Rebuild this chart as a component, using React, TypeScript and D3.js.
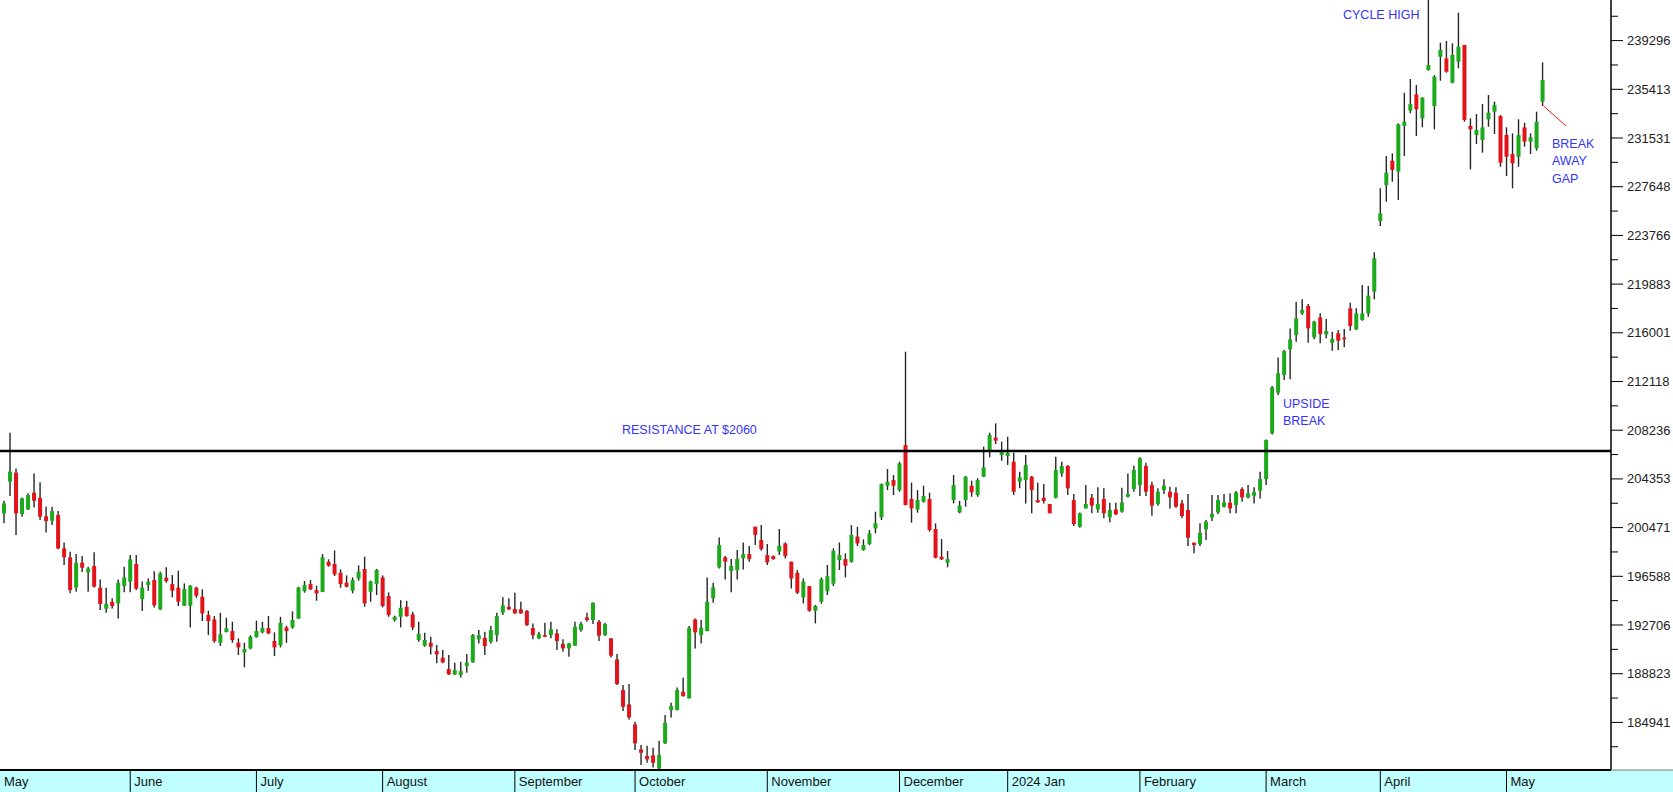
import React from "react";
import * as d3 from "d3";

// ---- Data (gold, daily candles, price x100 on axis) ----
const OPEN = [
  1997.4, 2016.0, 2041.3, 2048.5, 2015.5, 2019.2, 2032.5, 2028.5, 2013.7, 2010.2,
  2014.7, 1988.1, 1981.0, 1957.0, 1976.7, 1969.0, 1974.1, 1956.8, 1940.0, 1945.6,
  1944.3, 1958.1, 1961.6, 1975.7, 1947.7, 1958.9, 1962.9, 1939.5, 1964.8, 1959.7,
  1956.8, 1942.4, 1942.4, 1956.8, 1949.6, 1935.0, 1931.5, 1912.9, 1921.4, 1922.2,
  1912.9, 1905.2, 1908.4, 1917.4, 1921.2, 1924.6, 1914.3, 1910.8, 1925.1, 1925.1,
  1932.1, 1954.1, 1959.7, 1954.9, 1953.3, 1977.5, 1975.7, 1968.7, 1960.8, 1954.4,
  1964.2, 1971.7, 1953.6, 1959.7, 1965.0, 1950.1, 1931.0, 1933.6, 1941.6, 1935.5,
  1915.1, 1910.5, 1912.9, 1906.3, 1901.0, 1891.9, 1887.7, 1887.2, 1894.3, 1897.2,
  1915.6, 1916.9, 1913.7, 1919.0, 1936.9, 1941.6, 1939.8, 1939.5, 1938.2, 1924.6,
  1916.4, 1919.0, 1919.0, 1920.4, 1911.9, 1908.4, 1910.5, 1923.0, 1933.1, 1931.0,
  1929.7, 1919.0, 1916.4, 1899.6, 1875.2, 1863.8, 1847.8, 1827.9, 1822.6, 1823.1,
  1812.7, 1832.7, 1859.2, 1859.2, 1873.9, 1868.6, 1931.5, 1919.0, 1922.2, 1948.3,
  1973.0, 1981.0, 1970.1, 1970.9, 1980.2, 1983.6, 2005.4, 1994.8, 1982.8, 1982.0,
  1985.5, 1992.1, 1977.5, 1968.7, 1949.1, 1958.1, 1938.4, 1945.6, 1954.0, 1960.0,
  1978.8, 1979.6, 1977.5, 1997.5, 1986.8, 1991.6, 2004.1, 2012.9, 2038.1, 2042.6,
  2034.6, 2070.5, 2027.5, 2019.2, 2025.4, 2027.5, 2003.6, 1981.5, 1976.7, 2026.7,
  2016.8, 2026.7, 2038.1, 2030.7, 2045.3, 2066.5, 2076.4, 2062.6, 2061.8, 2057.2,
  2041.3, 2042.6, 2045.3, 2026.7, 2028.5, 2023.5, 2028.5, 2047.9, 2053.8, 2026.7,
  2005.4, 2020.0, 2028.5, 2019.2, 2027.5, 2012.9, 2019.2, 2017.4, 2029.3, 2035.5,
  2038.6, 2053.8, 2038.6, 2023.5, 2034.6, 2033.3, 2032.5, 2024.0, 2018.7, 1992.7,
  1991.6, 2003.3, 2012.9, 2016.8, 2021.4, 2024.6, 2022.7, 2035.4, 2028.8, 2030.1,
  2034.1, 2043.4, 2079.8, 2112.2, 2126.3, 2146.8, 2158.2, 2175.5, 2181.4, 2156.4,
  2172.3, 2158.7, 2152.1, 2159.6, 2156.1, 2179.5, 2162.7, 2170.2, 2175.5, 2192.8,
  2249.1, 2277.8, 2297.2, 2288.5, 2325.1, 2337.1, 2350.1, 2331.0, 2369.5, 2340.8,
  2380.1, 2378.8, 2359.4, 2376.2, 2389.5, 2324.9, 2317.7, 2313.7, 2330.2, 2336.3,
  2332.8, 2317.7, 2302.5, 2300.4, 2323.8, 2312.4, 2307.1, 2344.3,
];
const HIGH = [
  2026.0, 2026.1, 2080.4, 2051.9, 2028.8, 2032.0, 2047.9, 2040.8, 2021.4, 2021.4,
  2017.9, 1992.9, 1985.5, 1983.6, 1982.0, 1973.5, 1985.0, 1963.4, 1956.8, 1948.3,
  1963.4, 1973.5, 1982.8, 1982.8, 1961.8, 1964.2, 1970.0, 1969.5, 1973.0, 1966.9,
  1970.3, 1960.2, 1958.9, 1957.6, 1955.5, 1938.4, 1934.2, 1936.8, 1932.9, 1929.7,
  1916.4, 1912.9, 1919.0, 1930.5, 1929.7, 1934.2, 1921.2, 1933.6, 1926.5, 1937.9,
  1957.6, 1962.1, 1962.9, 1958.4, 1983.6, 1979.4, 1986.5, 1971.4, 1966.6, 1965.0,
  1974.6, 1981.5, 1962.4, 1971.7, 1966.6, 1953.1, 1934.5, 1946.9, 1946.4, 1937.6,
  1929.7, 1920.9, 1917.7, 1911.1, 1907.1, 1903.1, 1897.0, 1897.8, 1903.9, 1919.8,
  1923.0, 1921.7, 1926.2, 1936.9, 1949.1, 1948.3, 1952.8, 1945.6, 1939.0, 1928.3,
  1921.7, 1928.9, 1929.7, 1923.6, 1915.6, 1912.9, 1929.7, 1929.7, 1936.9, 1945.0,
  1931.0, 1928.9, 1916.6, 1903.9, 1879.2, 1880.0, 1849.9, 1831.3, 1830.8, 1829.2,
  1834.8, 1855.3, 1865.1, 1877.3, 1885.0, 1926.2, 1932.3, 1931.0, 1965.0, 1960.8,
  1996.9, 1982.0, 1979.6, 1986.8, 1992.9, 1990.0, 2005.4, 2006.7, 1991.6, 1982.5,
  2003.6, 1992.9, 1977.6, 1970.9, 1964.2, 1958.3, 1943.0, 1965.0, 1974.9, 1988.2,
  1992.9, 1984.2, 2006.7, 2005.4, 1995.3, 2002.8, 2017.4, 2039.9, 2051.4, 2046.6,
  2057.2, 2144.9, 2040.5, 2034.6, 2038.1, 2032.5, 2008.1, 1995.6, 1986.0, 2046.6,
  2025.9, 2045.8, 2042.1, 2044.0, 2069.2, 2080.4, 2087.8, 2073.2, 2077.2, 2064.4,
  2049.3, 2062.6, 2045.8, 2040.5, 2039.4, 2023.5, 2061.2, 2057.2, 2054.6, 2031.5,
  2016.8, 2038.6, 2031.5, 2036.8, 2036.0, 2024.6, 2024.6, 2036.5, 2047.9, 2054.1,
  2060.7, 2056.4, 2041.3, 2036.0, 2043.2, 2037.3, 2036.8, 2026.7, 2031.5, 1992.7,
  2008.1, 2010.7, 2030.7, 2030.7, 2031.5, 2032.0, 2033.8, 2036.8, 2038.6, 2036.8,
  2049.2, 2075.0, 2117.5, 2140.4, 2146.3, 2163.5, 2184.8, 2186.7, 2183.0, 2169.7,
  2175.5, 2171.0, 2160.9, 2162.2, 2163.0, 2184.0, 2179.5, 2198.1, 2197.3, 2224.2,
  2275.2, 2300.9, 2303.1, 2327.0, 2351.4, 2362.3, 2357.6, 2347.7, 2431.5, 2365.5,
  2391.3, 2392.6, 2390.8, 2415.2, 2389.5, 2331.0, 2334.4, 2342.4, 2349.6, 2344.3,
  2333.6, 2323.8, 2319.0, 2330.2, 2327.5, 2319.0, 2336.3, 2375.6,
];
const LOW = [
  1981.5, 2008.1, 2029.9, 1998.8, 2013.4, 2018.7, 2020.8, 2010.7, 2000.9, 2006.7,
  1987.5, 1974.9, 1952.3, 1953.6, 1969.3, 1953.6, 1957.0, 1939.0, 1936.8, 1940.3,
  1932.3, 1953.1, 1953.1, 1954.9, 1938.2, 1954.4, 1941.1, 1939.0, 1960.8, 1949.1,
  1942.2, 1942.2, 1925.1, 1948.8, 1930.2, 1919.0, 1912.9, 1910.3, 1921.2, 1912.9,
  1903.1, 1893.3, 1907.6, 1916.9, 1920.4, 1919.6, 1902.3, 1909.2, 1912.9, 1924.1,
  1932.1, 1952.8, 1954.9, 1946.4, 1953.3, 1973.5, 1966.1, 1956.8, 1957.0, 1952.3,
  1962.4, 1941.6, 1945.6, 1950.9, 1941.1, 1933.6, 1929.7, 1925.1, 1933.6, 1923.0,
  1913.7, 1909.7, 1903.6, 1896.5, 1896.5, 1887.2, 1887.2, 1885.3, 1889.0, 1897.0,
  1912.4, 1903.1, 1912.4, 1913.7, 1935.0, 1939.0, 1936.0, 1936.0, 1926.2, 1915.6,
  1915.6, 1917.2, 1916.4, 1907.1, 1905.7, 1901.8, 1910.5, 1921.7, 1929.7, 1927.8,
  1914.3, 1918.2, 1901.2, 1879.2, 1858.4, 1851.8, 1827.4, 1815.4, 1817.2, 1813.5,
  1810.0, 1832.1, 1853.4, 1859.0, 1869.9, 1868.4, 1908.4, 1912.4, 1922.0, 1944.8,
  1972.2, 1963.4, 1953.1, 1963.4, 1971.4, 1977.5, 1990.8, 1986.3, 1974.9, 1979.0,
  1982.8, 1980.2, 1956.2, 1951.7, 1944.3, 1937.6, 1928.3, 1944.0, 1951.0, 1958.0,
  1970.9, 1965.0, 1976.7, 1990.0, 1986.3, 1990.8, 2000.1, 2010.7, 2034.6, 2030.7,
  2033.3, 2022.5, 2008.6, 2016.6, 2024.6, 2001.4, 1980.2, 1978.8, 1973.0, 2024.0,
  2016.1, 2021.4, 2029.3, 2029.3, 2045.0, 2060.7, 2071.3, 2058.0, 2054.6, 2030.7,
  2036.0, 2024.0, 2016.1, 2024.6, 2024.0, 2016.1, 2028.0, 2045.3, 2030.7, 2005.9,
  2004.6, 2020.0, 2016.1, 2016.6, 2012.1, 2008.9, 2014.7, 2016.6, 2028.8, 2033.3,
  2029.9, 2029.9, 2014.2, 2022.2, 2031.5, 2020.0, 2020.6, 2012.1, 1990.0, 1984.2,
  1990.0, 1994.8, 2009.9, 2015.5, 2020.8, 2016.1, 2016.1, 2025.3, 2028.0, 2024.0,
  2028.0, 2038.6, 2079.0, 2110.4, 2122.3, 2122.9, 2152.9, 2174.2, 2152.1, 2154.8,
  2151.6, 2155.6, 2145.7, 2146.3, 2148.4, 2161.7, 2162.2, 2169.7, 2172.8, 2186.7,
  2245.1, 2264.5, 2280.5, 2265.9, 2300.9, 2335.0, 2316.9, 2323.8, 2369.0, 2322.2,
  2361.0, 2367.4, 2358.9, 2370.9, 2328.3, 2290.3, 2310.5, 2303.6, 2324.3, 2318.5,
  2292.4, 2285.0, 2275.2, 2292.4, 2308.4, 2302.5, 2305.2, 2340.8,
];
const CLOSE = [
  2010.7, 2024.0, 2049.3, 2016.0, 2028.0, 2030.7, 2026.1, 2013.4, 2009.9, 2017.9,
  1988.1, 1981.0, 1954.9, 1976.7, 1972.7, 1972.0, 1957.6, 1943.8, 1943.8, 1942.2,
  1960.8, 1965.0, 1979.4, 1956.0, 1956.8, 1961.6, 1942.7, 1968.2, 1962.1, 1954.4,
  1945.6, 1955.7, 1958.4, 1950.4, 1936.3, 1930.2, 1914.3, 1919.6, 1924.4, 1915.1,
  1909.2, 1907.9, 1917.7, 1922.2, 1924.6, 1920.4, 1909.2, 1928.9, 1922.2, 1931.0,
  1957.0, 1958.9, 1955.5, 1952.3, 1981.0, 1974.3, 1967.4, 1959.7, 1957.6, 1962.9,
  1969.5, 1944.3, 1961.8, 1970.9, 1942.2, 1935.0, 1933.6, 1940.8, 1934.2, 1925.1,
  1919.9, 1915.1, 1909.7, 1903.6, 1897.2, 1887.7, 1891.1, 1890.3, 1897.0, 1919.0,
  1919.0, 1910.3, 1923.0, 1934.2, 1942.7, 1939.5, 1936.3, 1936.3, 1927.0, 1919.0,
  1919.8, 1917.7, 1923.6, 1914.3, 1908.4, 1912.4, 1925.7, 1927.8, 1931.0, 1944.8,
  1918.5, 1927.8, 1902.6, 1880.0, 1861.9, 1853.4, 1832.7, 1825.2, 1819.9, 1817.2,
  1823.4, 1849.1, 1862.4, 1875.2, 1870.4, 1924.9, 1921.2, 1924.9, 1945.6, 1957.1,
  1990.8, 1977.5, 1974.1, 1979.6, 1983.6, 1979.6, 1998.8, 1987.6, 1977.0, 1979.6,
  1990.3, 1982.0, 1964.2, 1952.8, 1961.6, 1938.4, 1942.2, 1963.5, 1966.0, 1986.3,
  1982.8, 1974.3, 1998.8, 1992.1, 1990.8, 2000.1, 2008.1, 2039.4, 2041.3, 2038.1,
  2055.9, 2022.7, 2020.0, 2026.7, 2029.9, 2002.8, 1980.7, 1979.4, 1979.6, 2038.6,
  2022.2, 2045.3, 2032.8, 2042.6, 2052.7, 2078.5, 2074.0, 2065.2, 2064.4, 2033.3,
  2044.8, 2054.6, 2034.6, 2024.8, 2025.9, 2016.1, 2050.6, 2053.8, 2036.0, 2007.5,
  2016.1, 2023.5, 2022.2, 2023.5, 2016.1, 2018.7, 2015.3, 2024.8, 2031.5, 2050.6,
  2059.9, 2033.3, 2022.2, 2033.3, 2038.1, 2028.8, 2021.4, 2013.9, 1996.6, 1990.8,
  2000.6, 2009.4, 2015.5, 2026.7, 2024.8, 2020.0, 2032.8, 2028.8, 2032.0, 2033.0,
  2043.4, 2074.5, 2116.5, 2127.7, 2145.5, 2154.8, 2171.5, 2178.2, 2163.5, 2168.9,
  2159.0, 2161.4, 2155.0, 2153.7, 2154.8, 2165.4, 2175.5, 2175.5, 2189.6, 2219.4,
  2255.2, 2287.6, 2289.8, 2326.2, 2328.3, 2342.4, 2338.2, 2347.5, 2373.5, 2364.2,
  2385.5, 2368.2, 2381.5, 2388.1, 2329.7, 2322.2, 2321.7, 2323.8, 2335.5, 2341.6,
  2295.6, 2300.4, 2295.1, 2317.7, 2312.4, 2315.8, 2328.3, 2361.5,
];

const MONTH_LABELS = [
  "May", "June", "July", "August", "September", "October", "November",
  "December", "2024 Jan", "February", "March", "April", "May",
];
const MONTH_START = [0, 22, 43, 64, 86, 106, 128, 150, 168, 190, 211, 230, 251];

const Y_TICK_LABELS = [
  "184941", "188823", "192706", "196588", "200471", "204353", "208236",
  "212118", "216001", "219883", "223766", "227648", "231531", "235413", "239296",
];

const RESISTANCE = 2065.7;
const RESISTANCE_LABEL = "RESISTANCE AT $2060";

// ---- Layout ----
const W = 1673;
const H = 792;
const PLOT_RIGHT = 1611;
const PLOT_BOTTOM = 770;
const STEP = 6.01;
const FONT = "'Liberation Sans', Arial, sans-serif";
const GREEN = "#1CAA1C";
const RED = "#E2141A";
const WICK = "#262626";
const BLUE = "#3535F5";

export default function App() {
  const n = OPEN.length;
  const x = d3.scaleLinear().domain([0, n - 1]).range([-2, -2 + (n - 1) * STEP]);
  const y = d3.scaleLinear().domain([1811.46, 2425.33]).range([PLOT_BOTTOM, 0]);

  const tickVals = Y_TICK_LABELS.map((t) => +t / 100);
  const minorVals = tickVals.slice(0, -1).map((v, i) => (v + tickVals[i + 1]) / 2);
  const stepV = tickVals[1] - tickVals[0];
  minorVals.push(tickVals[tickVals.length - 1] + stepV / 2);
  minorVals.unshift(tickVals[0] - stepV / 2);

  const candles = d3.range(n).map((i) => {
    const o = OPEN[i], c = CLOSE[i], h = HIGH[i], l = LOW[i];
    const up = c >= o;
    const top = y(Math.max(o, c));
    const bot = y(Math.min(o, c));
    return { i, cx: x(i), yh: y(h), yl: y(l), top, hgt: Math.max(1.5, bot - top), up };
  });

  return (
    <div style={{ position: "absolute", left: 0, top: 0, width: W, height: H, background: "#fff" }}>
      <svg width={W} height={H} style={{ display: "block" }} fontFamily={FONT}>
        <defs>
          <clipPath id="plotclip">
            <rect x={0} y={0} width={PLOT_RIGHT} height={PLOT_BOTTOM} />
          </clipPath>
        </defs>
        <rect x={0} y={0} width={W} height={H} fill="#fff" />

        {/* candles */}
        <g clipPath="url(#plotclip)">
          {candles.map((d) => (
            <g key={d.i}>
              <line x1={d.cx} x2={d.cx} y1={d.yh} y2={d.yl} stroke={WICK} strokeWidth={1.4} />
              <rect x={d.cx - 2} y={d.top} width={4} height={d.hgt} fill={d.up ? GREEN : RED} />
            </g>
          ))}
          {/* resistance line */}
          <line x1={0} x2={PLOT_RIGHT} y1={y(RESISTANCE)} y2={y(RESISTANCE)} stroke="#000" strokeWidth={2.5} />
        </g>

        {/* annotations */}
        <g fill={BLUE} fontSize={12.5}>
          <text x={622} y={y(RESISTANCE) - 17.5}>{RESISTANCE_LABEL}</text>
          <text x={1343} y={18.5}>CYCLE HIGH</text>
          <text x={1283} y={407.5}>UPSIDE</text>
          <text x={1283} y={424.5}>BREAK</text>
          <text x={1552} y={147.5}>BREAK</text>
          <text x={1552} y={165}>AWAY</text>
          <text x={1552} y={182.5}>GAP</text>
        </g>
        <line
          x1={x(n - 1) + 1}
          y1={y(LOW[n - 1])}
          x2={1566}
          y2={126}
          stroke="#E02020"
          strokeWidth={1}
        />

        {/* y axis */}
        <line x1={PLOT_RIGHT} x2={PLOT_RIGHT} y1={0} y2={PLOT_BOTTOM} stroke="#000" strokeWidth={1.5} />
        {minorVals.map((v, i) => (
          <line key={"m" + i} x1={PLOT_RIGHT} x2={PLOT_RIGHT + 7} y1={y(v)} y2={y(v)} stroke="#000" strokeWidth={1} />
        ))}
        {tickVals.map((v, i) => (
          <g key={"t" + i}>
            <line x1={PLOT_RIGHT} x2={PLOT_RIGHT + 12} y1={y(v)} y2={y(v)} stroke="#000" strokeWidth={1} />
            <text x={PLOT_RIGHT + 16} y={y(v)} dy="0.35em" fontSize={13} fill="#222">
              {Y_TICK_LABELS[i]}
            </text>
          </g>
        ))}

        {/* x axis band */}
        <rect x={0} y={PLOT_BOTTOM} width={W} height={H - PLOT_BOTTOM} fill="#C0FFFF" />
        <line x1={0} x2={PLOT_RIGHT} y1={PLOT_BOTTOM} y2={PLOT_BOTTOM} stroke="#000" strokeWidth={2} />
        <line x1={PLOT_RIGHT} x2={W} y1={PLOT_BOTTOM} y2={PLOT_BOTTOM} stroke="#777" strokeWidth={1} />
        {MONTH_START.map((s, i) => {
          const xp = Math.max(0, x(s));
          return (
            <g key={"mo" + i}>
              {i > 0 && (
                <line x1={xp} x2={xp} y1={PLOT_BOTTOM} y2={H} stroke="#000" strokeWidth={1} />
              )}
              <text x={xp + 4} y={PLOT_BOTTOM + 15.5} fontSize={13} fill="#111">
                {MONTH_LABELS[i]}
              </text>
            </g>
          );
        })}
      </svg>
    </div>
  );
}
